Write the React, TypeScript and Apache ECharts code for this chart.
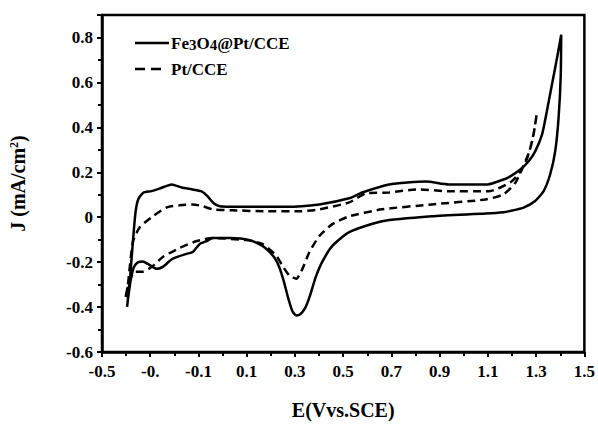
import React, { useEffect, useRef } from "react";
import * as echarts from "echarts";

// Fe3O4@Pt/CCE — anodic (upper) branch then cathodic (lower) branch, [E (V), J (mA/cm2)]
const feAnodic: [number, number][] = [
  [-0.396, -0.399], [-0.384, -0.274], [-0.371, -0.097], [-0.361, 0.022], [-0.35, 0.079],
  [-0.329, 0.109], [-0.295, 0.116], [-0.26, 0.128], [-0.211, 0.146],
  [-0.169, 0.132], [-0.128, 0.124], [-0.087, 0.115], [-0.062, 0.093], [-0.037, 0.062],
  [-0.012, 0.049], [0.112, 0.046], [0.264, 0.046], [0.401, 0.057], [0.525, 0.084],
  [0.579, 0.11], [0.69, 0.146], [0.843, 0.159], [0.938, 0.146], [1.099, 0.146],
  [1.165, 0.168], [1.193, 0.182], [1.234, 0.212], [1.269, 0.249], [1.296, 0.293],
  [1.324, 0.366], [1.344, 0.469], [1.365, 0.587], [1.386, 0.705], [1.404, 0.812],
];
const feCathodic: [number, number][] = [
  [1.404, 0.812], [1.402, 0.631], [1.393, 0.442], [1.379, 0.293], [1.358, 0.19],
  [1.331, 0.116], [1.296, 0.072], [1.248, 0.043], [1.193, 0.028], [1.165, 0.022],
  [1.091, 0.016], [0.868, 0.004], [0.661, -0.018], [0.525, -0.066], [0.455, -0.128],
  [0.413, -0.199], [0.385, -0.27], [0.362, -0.35], [0.342, -0.405], [0.322, -0.432],
  [0.306, -0.437], [0.29, -0.42], [0.272, -0.36], [0.255, -0.29], [0.236, -0.225],
  [0.215, -0.18], [0.19, -0.15], [0.165, -0.128], [0.112, -0.102], [0.029, -0.093],
  [-0.041, -0.093], [-0.066, -0.106], [-0.095, -0.119], [-0.124, -0.155], [-0.149, -0.163],
  [-0.207, -0.185], [-0.248, -0.221], [-0.273, -0.23], [-0.31, -0.208], [-0.33, -0.197],
  [-0.35, -0.2], [-0.367, -0.221], [-0.38, -0.274], [-0.39, -0.346], [-0.396, -0.399],
];

// Pt/CCE
const ptAnodic: [number, number][] = [
  [-0.402, -0.355], [-0.393, -0.305], [-0.372, -0.11], [-0.343, -0.044], [-0.289, 0.004],
  [-0.231, 0.044], [-0.178, 0.053], [-0.124, 0.057], [-0.083, 0.049], [-0.041, 0.035],
  [0.041, 0.031], [0.182, 0.026], [0.318, 0.026], [0.401, 0.035], [0.525, 0.066],
  [0.595, 0.106], [0.69, 0.11], [0.814, 0.124], [0.938, 0.115], [1.103, 0.115],
  [1.198, 0.159], [1.24, 0.212], [1.262, 0.26], [1.276, 0.31], [1.29, 0.375], [1.303, 0.462],
];
const ptCathodic: [number, number][] = [
  [1.303, 0.462], [1.289, 0.366], [1.272, 0.293], [1.215, 0.155], [1.165, 0.102],
  [1.091, 0.079], [0.868, 0.057], [0.661, 0.035], [0.525, 0.004], [0.455, -0.031],
  [0.401, -0.084], [0.36, -0.155], [0.331, -0.23], [0.306, -0.274], [0.277, -0.26],
  [0.248, -0.216], [0.223, -0.172], [0.165, -0.119], [0.099, -0.102], [-0.041, -0.093],
  [-0.107, -0.106], [-0.178, -0.137], [-0.248, -0.177], [-0.293, -0.221], [-0.335, -0.243],
  [-0.364, -0.243], [-0.386, -0.283], [-0.402, -0.355],
];

const xTickLabels = ["-0.5", "-0.", "-0.1", "0.1", "0.3", "0.5", "0.7", "0.9", "1.1", "1.3", "1.5"];
const yTickLabels = ["-0.6", "-0.4", "-0.2", "0", "0.2", "0.4", "0.6", "0.8"];

const FONT = "'Liberation Serif', 'Times New Roman', serif";

export default function App() {
  const ref = useRef<HTMLDivElement>(null);
  useEffect(() => {
    if (!ref.current) return;
    const chart = echarts.init(ref.current, undefined, { renderer: "svg" });
    chart.setOption({
      animation: false,
      backgroundColor: "#fff",
      grid: {
        left: 102, right: 12, top: 15, bottom: 71,
        show: true, borderColor: "#000", borderWidth: 2.5,
      },
      xAxis: {
        type: "value", min: -0.5, max: 1.5, interval: 0.2,
        name: "E(Vvs.SCE)", nameLocation: "middle", nameGap: 48,
        nameTextStyle: { fontFamily: FONT, fontWeight: "bold", fontSize: 20, color: "#000" },
        axisLine: { show: true, onZero: false, lineStyle: { color: "#000", width: 2.5 } },
        axisTick: { show: true, inside: false, length: 5, lineStyle: { color: "#000", width: 2 } },
        minorTick: { show: true, splitNumber: 2, length: 4, lineStyle: { color: "#000", width: 2 } },
        splitLine: { show: false },
        axisLabel: {
          margin: 11, fontFamily: FONT, fontWeight: "bold", fontSize: 17, color: "#000",
          formatter: (v: number) => {
            const i = Math.round((v + 0.5) / 0.2);
            return xTickLabels[i] ?? "";
          },
        },
      },
      yAxis: {
        type: "value", min: -0.6, max: 0.9, interval: 0.2,
        name: "{m|J (mA/cm}{s|2}{m|)}", nameLocation: "middle", nameGap: 74,
        nameTextStyle: {
          fontFamily: FONT, fontWeight: "bold", fontSize: 20, color: "#000",
          rich: {
            m: { fontFamily: FONT, fontWeight: "bold", fontSize: 20, color: "#000" },
            s: { fontFamily: FONT, fontWeight: "bold", fontSize: 12, color: "#000", verticalAlign: "top" },
          },
        },
        axisLine: { show: true, onZero: false, lineStyle: { color: "#000", width: 2.5 } },
        axisTick: { show: true, inside: false, length: 5, lineStyle: { color: "#000", width: 2 } },
        minorTick: { show: true, splitNumber: 2, length: 4, lineStyle: { color: "#000", width: 2 } },
        splitLine: { show: false },
        axisLabel: {
          margin: 9, fontFamily: FONT, fontWeight: "bold", fontSize: 17, color: "#000",
          formatter: (v: number) => {
            const i = Math.round((v + 0.6) / 0.2);
            if (Math.abs(v + 0.6 - i * 0.2) > 1e-6) return "";
            return yTickLabels[i] ?? "";
          },
        },
      },
      series: [
        {
          name: "Fe3O4@Pt/CCE", type: "line", smooth: 0.2, symbol: "none",
          data: [...feAnodic, ...feCathodic.slice(1)],
          lineStyle: { color: "#000", width: 2.5, type: "solid" },
        },
        {
          name: "Pt/CCE", type: "line", smooth: 0.2, symbol: "none",
          data: [...ptAnodic, ...ptCathodic.slice(1)],
          lineStyle: { color: "#000", width: 2.5, type: [8, 5] },
        },
      ],
      graphic: [
        { type: "line", shape: { x1: 135, y1: 43, x2: 169, y2: 43 }, style: { stroke: "#000", lineWidth: 2.5 } },
        { type: "line", shape: { x1: 135, y1: 69, x2: 166, y2: 69 }, style: { stroke: "#000", lineWidth: 2.5, lineDash: [10, 6] } },
        {
          type: "text", x: 171, y: 43,
          style: {
            text: "{m|Fe}{b|3}{m|O}{b|4}{m|@Pt/CCE}",
            verticalAlign: "middle", align: "left",
            rich: {
              m: { fontFamily: FONT, fontWeight: "bold", fontSize: 17, fill: "#000" },
              b: { fontFamily: FONT, fontWeight: "bold", fontSize: 15, fill: "#000", verticalAlign: "bottom", padding: [4, 0, 0, 0] },
            },
          },
        },
        {
          type: "text", x: 171, y: 69,
          style: { text: "Pt/CCE", verticalAlign: "middle", align: "left", fontFamily: FONT, fontWeight: "bold", fontSize: 17, fill: "#000" },
        },
      ],
    });
    return () => chart.dispose();
  }, []);
  return <div ref={ref} style={{ position: "absolute", left: 0, top: 0, width: 598, height: 425 }} />;
}
